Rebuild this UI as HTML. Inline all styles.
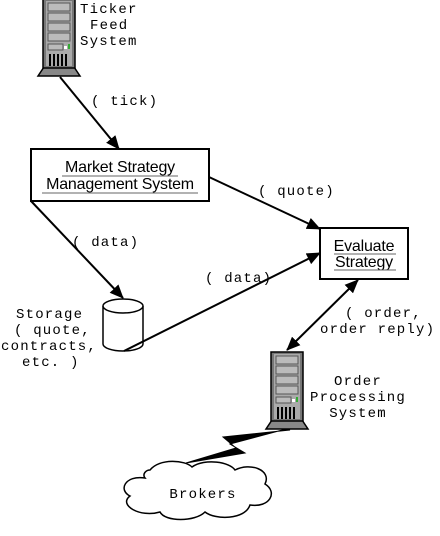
<!DOCTYPE html>
<html><head><meta charset="utf-8"><style>
html,body{margin:0;padding:0;background:#fff;}
svg{display:block;}
text{font-family:"Liberation Mono",monospace;font-size:14px;letter-spacing:1.2px;fill:#000;}
.s{font-family:"Liberation Sans",sans-serif;font-size:16px;letter-spacing:-0.2px;}
</style></head><body>
<svg width="440" height="536" viewBox="0 0 440 536" xmlns="http://www.w3.org/2000/svg">
<defs>
<marker id="ar" markerWidth="14" markerHeight="12" refX="13" refY="6" orient="auto" markerUnits="userSpaceOnUse">
<path d="M0,0 L14,6 L0,12 z" fill="#000"/></marker>
<marker id="al" markerWidth="14" markerHeight="12" refX="1" refY="6" orient="auto" markerUnits="userSpaceOnUse">
<path d="M14,0 L0,6 L14,12 z" fill="#000"/></marker>
<g id="srv">
<polygon points="1,68 31,68 37,77 -5,77" fill="#888" stroke="#000" stroke-width="1.5"/>
<rect x="0" y="0" width="32" height="69" fill="#777" stroke="#000" stroke-width="1.5"/>
<rect x="3" y="2" width="26" height="65" fill="#aaa"/>
<rect x="5" y="4" width="22" height="8" fill="#bbb" stroke="#555"/>
<rect x="5" y="14" width="22" height="8" fill="#bbb" stroke="#555"/>
<rect x="5" y="24" width="22" height="8" fill="#bbb" stroke="#555"/>
<rect x="5" y="34" width="22" height="8" fill="#bbb" stroke="#555"/>
<rect x="5" y="45" width="15" height="6" fill="#bbb" stroke="#555"/>
<rect x="21" y="47" width="3" height="3" fill="#fff"/>
<rect x="25" y="45" width="2" height="5" fill="#3a3"/>
<rect x="6" y="55" width="2" height="12" fill="#000"/>
<rect x="10" y="55" width="2" height="12" fill="#000"/>
<rect x="14" y="55" width="2" height="12" fill="#000"/>
<rect x="18" y="55" width="2" height="12" fill="#000"/>
<rect x="22" y="55" width="2" height="12" fill="#000"/>
</g>
</defs>

<use href="#srv" x="43" y="-1"/>
<text x="80" y="13">Ticker</text>
<text x="90" y="29">Feed</text>
<text x="80" y="45">System</text>

<line x1="60" y1="77" x2="119" y2="149" stroke="#000" stroke-width="2" marker-end="url(#ar)"/>
<text x="91" y="105">( tick)</text>

<rect x="31" y="149" width="178" height="52" fill="#fff" stroke="#000" stroke-width="2"/>
<text class="s" x="120" y="172" text-anchor="middle">Market Strategy</text>
<line x1="62" y1="176" x2="178" y2="176" stroke="#666"/>
<text class="s" x="120" y="189" text-anchor="middle">Management System</text>
<line x1="42" y1="193" x2="198" y2="193" stroke="#666"/>

<rect x="320" y="228" width="88" height="51" fill="#fff" stroke="#000" stroke-width="2"/>
<text class="s" x="364" y="251" text-anchor="middle">Evaluate</text>
<line x1="334" y1="254" x2="396" y2="254" stroke="#666"/>
<text class="s" x="364" y="267" text-anchor="middle">Strategy</text>
<line x1="334" y1="270" x2="396" y2="270" stroke="#666"/>

<line x1="209" y1="177" x2="320" y2="229" stroke="#000" stroke-width="2" marker-end="url(#ar)"/>
<text x="258" y="195">( quote)</text>

<line x1="31" y1="201" x2="123" y2="298" stroke="#000" stroke-width="2" marker-end="url(#ar)"/>
<text x="72" y="246">( data)</text>

<path d="M103,306 L103,344 A20,7 0 0 0 143,344 L143,306" fill="#fff" stroke="#000" stroke-width="1.5"/>
<ellipse cx="123" cy="306" rx="20" ry="7" fill="#fff" stroke="#000" stroke-width="1.5"/>

<line x1="124" y1="351" x2="320" y2="253" stroke="#000" stroke-width="2" marker-end="url(#ar)"/>
<text x="205" y="282">( data)</text>

<text x="16" y="318">Storage</text>
<text x="14" y="334">( quote,</text>
<text x="1" y="350">contracts,</text>
<text x="22" y="366">etc. )</text>

<line x1="287" y1="350" x2="358" y2="280" stroke="#000" stroke-width="2" marker-start="url(#al)" marker-end="url(#ar)"/>
<text x="345" y="317">( order,</text>
<text x="320" y="333">order reply)</text>

<use href="#srv" x="271" y="352"/>
<text x="358" y="385" text-anchor="middle">Order</text>
<text x="358" y="401" text-anchor="middle">Processing</text>
<text x="358" y="417" text-anchor="middle">System</text>

<polygon points="286,429 230,444 245,453 186,463 236,448 223,437 290,430" fill="#000" stroke="#000"/>

<path d="M150,470 C160,458 185,460 192,467 C205,458 230,462 235,470 C250,462 272,470 265,484 C278,492 270,508 250,505 C245,520 215,520 205,512 C195,522 165,522 160,512 C140,518 118,505 130,496 C118,490 125,475 145,478 C142,474 146,470 150,470 Z" fill="#fff" stroke="#000" stroke-width="1.5"/>
<text x="203" y="498" text-anchor="middle">Brokers</text>
</svg>
</body></html>
